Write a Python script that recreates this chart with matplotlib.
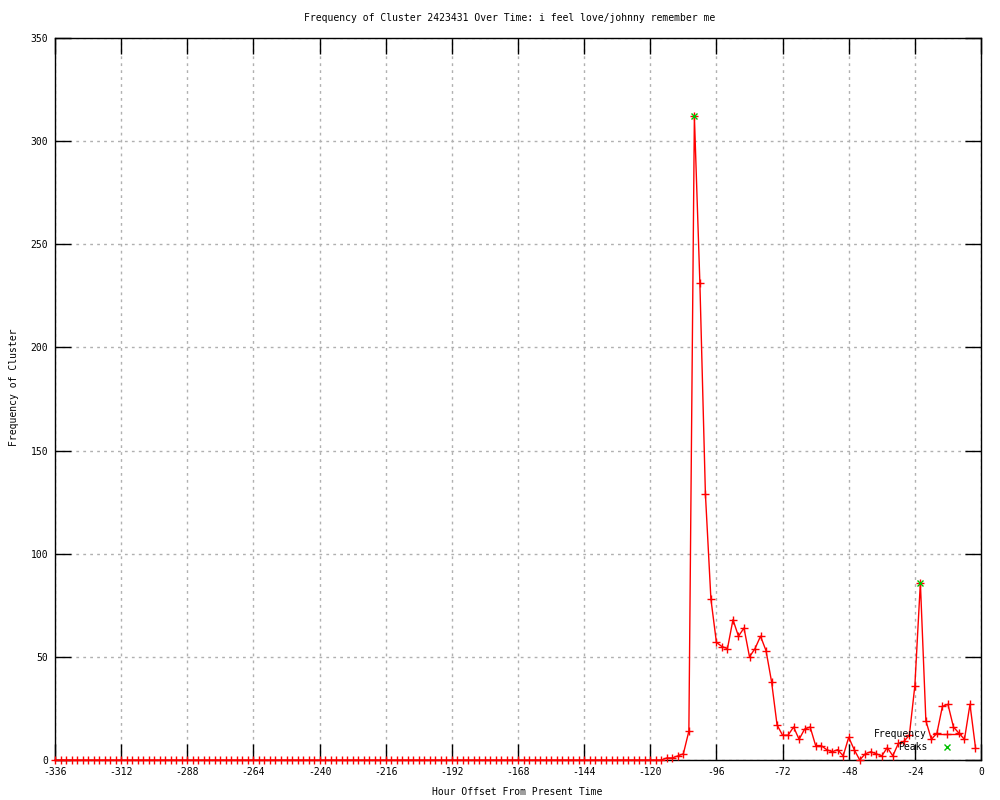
import matplotlib
matplotlib.use("Agg")
import matplotlib.pyplot as plt

# hour offsets, every 2 hours from -336 up to -2
hours = list(range(-336, 0, 2))

# cluster frequency per 2 hour bin
counts = [
    0, 0, 0, 0, 0, 0, 0, 0, 0, 0, 0, 0, 0, 0, 0, 0, 0, 0, 0, 0,
    0, 0, 0, 0, 0, 0, 0, 0, 0, 0, 0, 0, 0, 0, 0, 0, 0, 0, 0, 0,
    0, 0, 0, 0, 0, 0, 0, 0, 0, 0, 0, 0, 0, 0, 0, 0, 0, 0, 0, 0,
    0, 0, 0, 0, 0, 0, 0, 0, 0, 0, 0, 0, 0, 0, 0, 0, 0, 0, 0, 0,
    0, 0, 0, 0, 0, 0, 0, 0, 0, 0, 0, 0, 0, 0, 0, 0, 0, 0, 0, 0,
    0, 0, 0, 0, 0, 0, 0, 0, 0, 0, 0,
    1, 1, 2, 3, 14, 312, 231, 129, 78, 57, 55, 54, 68, 60, 64, 50,
    54, 60, 53, 38, 17, 12, 12, 16, 10, 15, 16, 7, 7, 5, 4, 5,
    2, 11, 5, 0, 3, 4, 3, 2, 6, 2, 8, 9, 12, 36, 86, 19,
    10, 13, 26, 27, 16, 13, 10, 27, 6,
]

peak_hours = [-104, -22]
peak_counts = [312, 86]

xticks = [-336, -312, -288, -264, -240, -216, -192, -168, -144, -120, -96, -72, -48, -24, 0]
yticks = [0, 50, 100, 150, 200, 250, 300, 350]

plt.rcParams["font.family"] = ["DejaVu Sans Mono"]
plt.rcParams["font.size"] = 7
plt.rcParams["axes.unicode_minus"] = False

fig = plt.figure(figsize=(10, 8), dpi=100)
ax = fig.add_axes([0.055, 0.05, 0.926, 0.9025])

ax.plot(hours, counts, color="#ff0000", linewidth=1, marker="+",
        markersize=5.5, markeredgewidth=1, label="Frequency", clip_on=False, zorder=3)
ax.plot(peak_hours, peak_counts, linestyle="none", color="#00c000", marker="x",
        markersize=5, markeredgewidth=1, label="Peaks", clip_on=False, zorder=4)

ax.set_xlim(-336, 0)
ax.set_ylim(0, 350)
ax.set_xticks(xticks)
ax.set_yticks(yticks)
ax.grid(True, color="#b0b0b0", linestyle=(0, (2, 3)), linewidth=1)
ax.tick_params(direction="in", length=11.5, width=1, top=True, right=True,
               labelsize=7, pad=5)
for s in ax.spines.values():
    s.set_linewidth(1)

ax.legend(loc="lower right", bbox_to_anchor=(0.987, 0.0), frameon=False,
          markerfirst=False, fontsize=7, handlelength=2.9, handletextpad=0.6,
          labelspacing=0.3, borderpad=0.3)

fig.text(0.51, 0.9775, "Frequency of Cluster 2423431 Over Time: i feel love/johnny remember me",
         ha="center", va="center", fontsize=7)
fig.text(0.517, 0.01, "Hour Offset From Present Time", ha="center", va="center", fontsize=7)
fig.text(0.014, 0.516, "Frequency of Cluster", ha="center", va="center",
         rotation=90, fontsize=7)

plt.savefig("out.png", dpi=100)
